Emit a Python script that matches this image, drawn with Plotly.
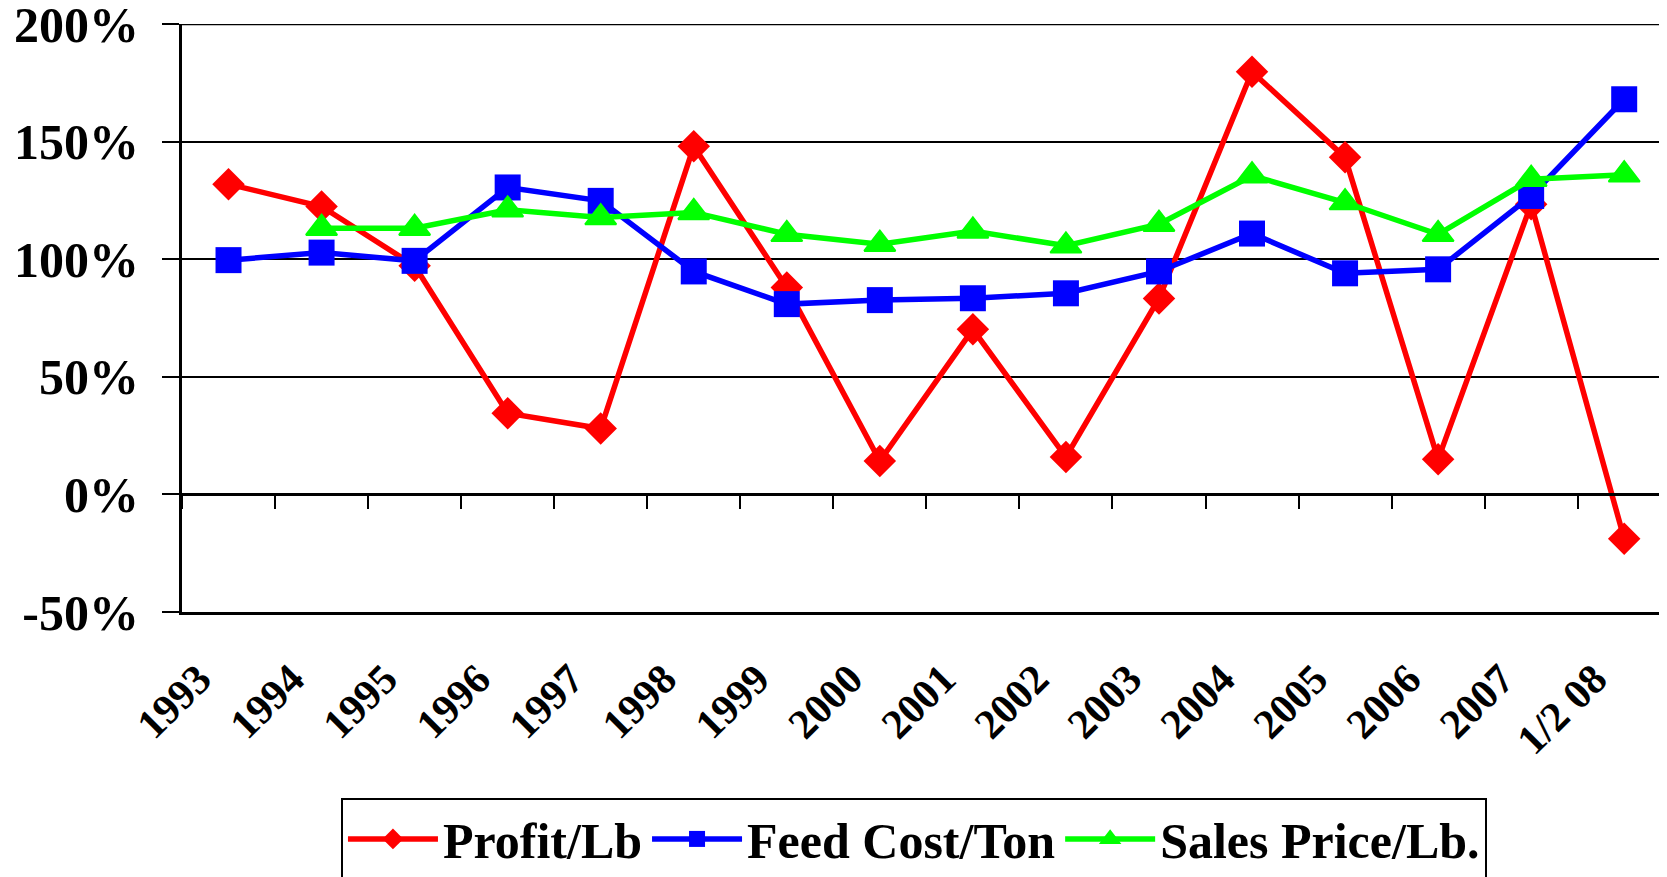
import plotly.graph_objects as go

categories = ["1993", "1994", "1995", "1996", "1997", "1998", "1999", "2000",
              "2001", "2002", "2003", "2004", "2005", "2006", "2007", "1/2 08"]
profit_per_lb = [131.9, 122.4, 97.2, 34.5, 28.0, 148.0, 88.0, 14.2,
                 70.2, 15.9, 83.3, 179.7, 143.3, 14.9, 123.4, -18.9]
feed_cost_per_ton = [99.6, 102.8, 99.3, 130.5, 124.8, 94.8, 80.9, 82.6,
                     83.4, 85.5, 94.8, 110.9, 94.0, 95.7, 126.9, 168.0]
sales_price_per_lb = [None, 113.2, 113.2, 121.0, 117.7, 119.9, 110.6, 106.4,
                      112.0, 105.7, 114.9, 135.5, 124.1, 110.6, 134.0, 135.9]
y_ticks = [-50, 0, 50, 100, 150, 200]
y_tick_labels = ["-50%", "0%", "50%", "100%", "150%", "200%"]

FONT = "Liberation Serif, Times New Roman, serif"
PAD = "\u00a0\u00a0\u00a0\u00a0"

fig = go.Figure()
fig.add_trace(go.Scatter(
    x=categories, y=profit_per_lb, name="Profit/Lb", mode="lines+markers",
    line=dict(color="#FF0000", width=5.5),
    marker=dict(symbol="diamond", size=25, color="#FF0000"),
))
fig.add_trace(go.Scatter(
    x=categories, y=feed_cost_per_ton, name="Feed Cost/Ton", mode="lines+markers",
    line=dict(color="#0000FF", width=5.5),
    marker=dict(symbol="square", size=26, color="#0000FF"),
))
fig.add_trace(go.Scatter(
    x=categories, y=sales_price_per_lb, name="Sales Price/Lb.", mode="lines+markers",
    line=dict(color="#00FF00", width=5.5),
    marker=dict(symbol="triangle-up", size=27, color="#00FF00",
                line=dict(color="#00FF00", width=2)),
))
# helper trace so that the zero-crossing category axis (with tick marks) is drawn
fig.add_trace(go.Scatter(
    x=categories, y=profit_per_lb, xaxis="x2", mode="markers",
    marker=dict(opacity=0), showlegend=False, hoverinfo="skip",
))

xrange = [-0.5, 15.46]
fig.update_layout(
    width=1659, height=869,
    margin=dict(l=174, r=0, t=16, b=265, autoexpand=False),
    paper_bgcolor="white", plot_bgcolor="white",
    font=dict(family=FONT, color="black"),
    showlegend=True,
    xaxis=dict(
        type="category", range=xrange, showgrid=False, automargin=False,
        showline=True, linecolor="black", linewidth=2.5,
        tickvals=categories, ticktext=[c + PAD for c in categories],
        ticks="", tickangle=-45, ticklabelstandoff=-7,
        ticklabeloverflow="allow",
        tickfont=dict(family=FONT, size=42, color="black", weight="bold"),
        zeroline=False,
    ),
    xaxis2=dict(
        type="category", range=xrange, overlaying="x", anchor="free",
        position=0.2, showgrid=False, showticklabels=False, automargin=False,
        showline=True, linecolor="black", linewidth=2.5,
        ticks="outside", tickson="boundaries", ticklen=13, tickwidth=2,
        tickcolor="black", zeroline=False,
    ),
    yaxis=dict(
        range=[-50, 200], tickvals=y_ticks, ticktext=y_tick_labels,
        showgrid=True, gridcolor="black", gridwidth=2, automargin=False,
        showline=True, linecolor="black", linewidth=3,
        ticks="outside", ticklen=17, tickwidth=2, tickcolor="black",
        tickfont=dict(family=FONT, size=50, color="black", weight="bold"),
        zeroline=False, ticklabelstandoff=13, ticklabeloverflow="allow",
    ),
    legend=dict(
        orientation="h", xref="container", yref="container",
        x=0.2007, y=0.091, xanchor="left", yanchor="top",
        bordercolor="black", borderwidth=2, bgcolor="white",
        font=dict(family=FONT, size=50, color="black", weight="bold"),
        itemwidth=90, tracegroupgap=0,
    ),
)
fig.add_shape(type="line", xref="paper", yref="y", x0=0, x1=1, y0=200, y1=200,
              line=dict(color="black", width=2.5))

fig.write_html("out.html")
